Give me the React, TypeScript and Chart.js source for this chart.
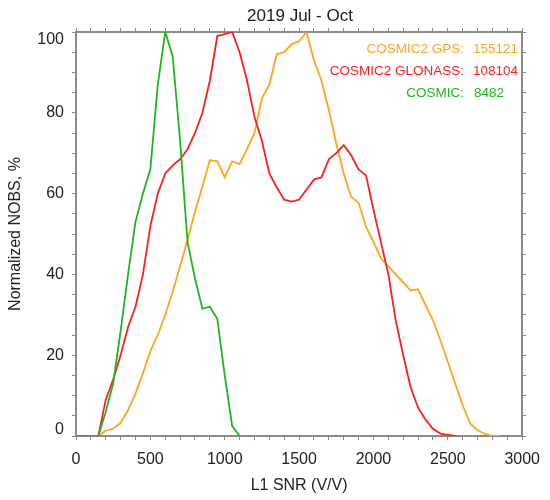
import React, { useEffect, useRef } from 'react';
import { Chart, registerables } from 'chart.js';

Chart.register(...registerables);

// L1 SNR grid (V/V), one sample every 50
const snr = [
  0, 50, 100, 150, 200, 250, 300, 350, 400, 450, 500, 550, 600, 650, 700, 750, 800, 850, 900, 950,
  1000, 1050, 1100, 1150, 1200, 1250, 1300, 1350, 1400, 1450, 1500, 1550, 1600, 1650, 1700, 1750,
  1800, 1850, 1900, 1950, 2000, 2050, 2100, 2150, 2200, 2250, 2300, 2350, 2400, 2450, 2500, 2550,
  2600, 2650, 2700, 2750, 2800, 2850,
];

// Normalized NOBS, %
const cosmic = [
  0, 0, 0, 0, 6, 13, 26, 40, 53, 60, 66, 87, 100, 94, 73, 48, 39, 31.5, 32, 29, 15, 2.5, 0,
];
const glonass = [
  0, 0, 0, 0, 9, 14, 20, 27, 32, 40, 52, 60, 65, 67, 68.5, 71, 75, 80, 88, 99, 99.5, 100, 95, 88,
  79, 73, 65, 61.5, 58.5, 58, 58.5, 61, 63.5, 64, 68.5, 70, 72, 69.5, 66, 64.5, 56, 48, 40, 28.5,
  20, 12, 7, 4, 1.8, 0.6, 0.3, 0,
];
const gps = [
  0, 0, 0, 0, 1.3, 1.8, 3.2, 6.4, 10.5, 15.5, 21, 25, 30, 35.7, 42, 48.5, 55.5, 61.7, 68.3, 68, 64,
  68, 67.3, 71, 75, 83.6, 87, 94.5, 95, 97, 97.7, 100, 93, 88, 80.7, 72.4, 65, 59.2, 57.7, 51.8, 48,
  44, 42, 40, 38, 36, 36.3, 32.4, 28.7, 23.7, 18.3, 13, 7.6, 3.1, 1.4, 0.5, 0, 0,
];

const legendLabels = ['COSMIC2 GPS:', 'COSMIC2 GLONASS:', 'COSMIC:'];
const legendCounts = ['155121', '108104', '8482'];

const ORANGE = '#ffa41c';
const RED = '#ff1e1e';
const GREEN = '#1fb51f';
const AXIS = '#8a8a8a';
const FONT = "'Liberation Sans', Arial, sans-serif";

const toPoints = (vals: number[]) => vals.map((v, i) => ({ x: snr[i], y: v }));

const textPlugin = {
  id: 'textPlugin',
  afterDraw(chart: Chart) {
    const ctx = chart.ctx;
    ctx.save();
    ctx.fillStyle = '#1a1a1a';
    ctx.font = `17px ${FONT}`;
    ctx.textAlign = 'center';
    ctx.textBaseline = 'middle';
    ctx.fillText('2019 Jul - Oct', 300, 16);

    const colors = [ORANGE, RED, GREEN];
    const rows = [49, 71, 93];
    ctx.font = `13.5px ${FONT}`;
    legendLabels.forEach((label, i) => {
      ctx.fillStyle = colors[i];
      ctx.textAlign = 'right';
      ctx.fillText(label, 464, rows[i]);
      ctx.textAlign = 'left';
      ctx.fillText(legendCounts[i], i === 2 ? 474 : 473, rows[i]);
    });
    ctx.restore();
  },
};

const SnrChart: React.FC = () => {
  const canvasRef = useRef<HTMLCanvasElement>(null);
  const chartRef = useRef<Chart | null>(null);

  useEffect(() => {
    if (!canvasRef.current) return;
    if (chartRef.current) chartRef.current.destroy();

    const tickGrid = {
      drawOnChartArea: false,
      drawTicks: true,
      tickLength: 4,
      color: AXIS,
      tickColor: AXIS,
      tickWidth: 1,
    };
    const border = { display: true, color: AXIS, width: 2 };

    chartRef.current = new Chart(canvasRef.current, {
      type: 'line',
      data: {
        datasets: [
          { label: 'COSMIC', data: toPoints(cosmic), borderColor: GREEN },
          { label: 'COSMIC2 GLONASS', data: toPoints(glonass), borderColor: RED },
          { label: 'COSMIC2 GPS', data: toPoints(gps), borderColor: ORANGE },
        ].map(d => ({ ...d, borderWidth: 1.8, pointRadius: 0, tension: 0, fill: false })),
      },
      options: {
        responsive: false,
        animation: false,
        layout: { padding: 0 },
        plugins: { legend: { display: false }, tooltip: { enabled: false } },
        scales: {
          x: {
            type: 'linear',
            position: 'bottom',
            min: 0,
            max: 3000,
            grid: tickGrid,
            border,
            ticks: {
              stepSize: 100,
              autoSkip: false,
              maxRotation: 0,
              padding: 10,
              color: '#222',
              font: { size: 16, family: FONT },
              callback: (v: any) => (Number(v) % 500 === 0 ? String(v) : ''),
            },
            title: {
              display: true,
              text: 'L1 SNR (V/V)',
              color: '#222',
              font: { size: 16, family: FONT },
              padding: { top: 0, bottom: 5 },
            },
            afterFit: (s: any) => { s.height = 64; },
          },
          x2: {
            type: 'linear',
            position: 'top',
            min: 0,
            max: 3000,
            grid: tickGrid,
            border,
            ticks: { stepSize: 100, autoSkip: false, display: false },
            afterFit: (s: any) => { s.height = 32; },
          },
          y: {
            type: 'linear',
            position: 'left',
            min: 0,
            max: 100,
            grid: tickGrid,
            border,
            ticks: {
              stepSize: 5,
              autoSkip: false,
              padding: 8,
              color: '#222',
              // the end labels sit inside the axis range, as in the original
              font: (c: any) => {
                const v = c.tick ? c.tick.value : -1;
                const lh = v === 100 ? 16 : v === 0 ? 12 : 19.2;
                return { size: 16, family: FONT, lineHeight: lh + 'px' };
              },
              callback: (v: any) => {
                const n = Number(v);
                if (n % 20 !== 0) return '';
                if (n === 100) return ['', '100'];
                if (n === 0) return ['0', ''];
                return String(n);
              },
            },
            title: {
              display: true,
              text: 'Normalized NOBS, %',
              color: '#222',
              font: { size: 16, family: FONT },
              padding: { top: 6, bottom: 0 },
            },
            afterFit: (s: any) => { s.width = 76; },
          },
          y2: {
            type: 'linear',
            position: 'right',
            min: 0,
            max: 100,
            grid: tickGrid,
            border,
            ticks: { stepSize: 5, autoSkip: false, display: false },
            afterFit: (s: any) => { s.width = 26; },
          },
        },
      } as any,
      plugins: [textPlugin],
    });

    return () => {
      if (chartRef.current) {
        chartRef.current.destroy();
        chartRef.current = null;
      }
    };
  }, []);

  return (
    <div style={{ position: 'fixed', left: 0, top: 0, width: 550, height: 500, background: '#fff' }}>
      <canvas ref={canvasRef} width={550} height={500}></canvas>
    </div>
  );
};

export default function App() {
  return <SnrChart />;
}
